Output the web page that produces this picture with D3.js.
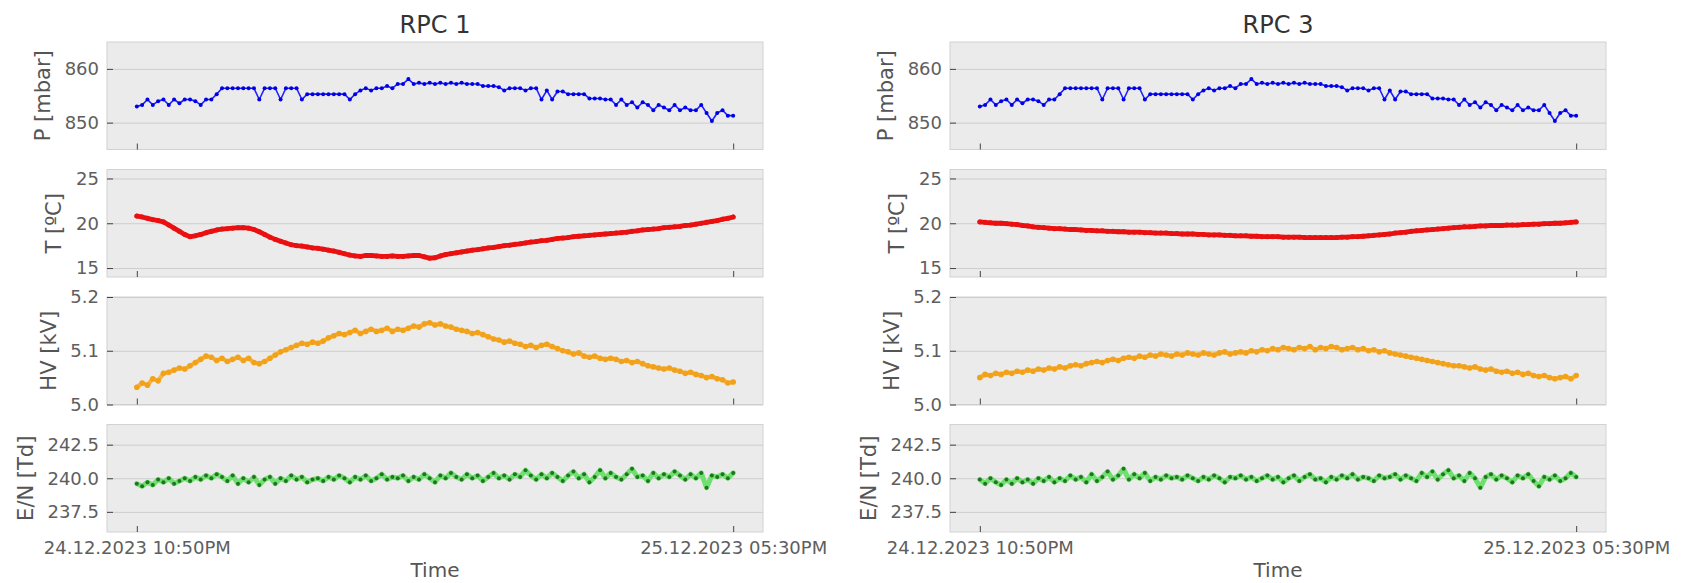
<!DOCTYPE html>
<html>
<head>
<meta charset="utf-8">
<script src="https://cdn.jsdelivr.net/npm/d3@7"></script>
<style>
  body { margin: 0; background: #fff; }
  svg { display: block; font-family: 'DejaVu Sans', sans-serif; }
  .grid line { stroke: #cdcdcd; stroke-width: 1; }
  .grid path { display: none; }
  .axis path { display: none; }
  .axis line { stroke: #444; stroke-width: 1; }
  .axis text { fill: #5e5e5e; font-size: 18px; font-family: 'DejaVu Sans', sans-serif; }
</style>
</head>
<body>
<svg width="1686" height="583"></svg>
<script>
// sampling: one reading every 10 minutes
const startTime = new Date(2023, 11, 24, 22, 50)
const endTime = new Date(2023, 11, 25, 17, 30)
const stepMinutes = 10

const rpcTitles = ['RPC 1', 'RPC 3']
const rowLabels = ['P [mbar]', 'T [ºC]', 'HV [kV]', 'E/N [Td]']
const rowTicks = [[850, 860], [15, 20, 25], [5.0, 5.1, 5.2], [237.5, 240.0, 242.5]]
const rowLimits = [[845, 865], [14, 26], [5.0, 5.2], [236, 244]]
const rowFormats = ['d', 'd', '.1f', '.1f']

// pressure is the same sensor for both chambers
const pressure = [
  853.0, 853.3, 854.3, 853.3, 854.0, 854.3, 853.3, 854.3, 853.6, 854.3,
  854.3, 854.0, 853.3, 854.3, 854.3, 855.3, 856.4, 856.4, 856.4, 856.4,
  856.4, 856.4, 856.4, 854.3, 856.4, 856.4, 856.4, 854.3, 856.4, 856.4,
  856.4, 854.3, 855.3, 855.3, 855.3, 855.3, 855.3, 855.3, 855.3, 855.3,
  854.3, 855.3, 856.0, 856.4, 856.0, 856.4, 856.4, 856.8, 856.4, 857.2,
  857.2, 858.1, 857.2, 857.4, 857.2, 857.4, 857.2, 857.4, 857.2, 857.4,
  857.2, 857.4, 857.2, 857.2, 857.2, 856.8, 856.8, 856.8, 856.6, 856.0,
  856.4, 856.4, 856.4, 856.0, 856.4, 856.4, 854.3, 856.0, 854.3, 855.8,
  855.8, 855.3, 855.3, 855.3, 855.3, 854.5, 854.5, 854.5, 854.3, 854.3,
  853.3, 854.3, 853.3, 853.8, 852.8, 853.8, 853.3, 852.3, 853.3, 852.8,
  852.3, 853.3, 852.3, 852.8, 852.3, 852.3, 853.3, 851.8, 850.3, 851.8,
  852.3, 851.3, 851.3
]

const tempRpc1 = [
  20.8, 20.7, 20.55, 20.4, 20.3, 20.15, 19.8, 19.45, 19.1, 18.75,
  18.5, 18.6, 18.75, 18.95, 19.1, 19.25, 19.35, 19.4, 19.45, 19.5,
  19.5, 19.45, 19.3, 19.05, 18.75, 18.45, 18.2, 18.0, 17.8, 17.6,
  17.5, 17.45, 17.35, 17.25, 17.2, 17.1, 17.0, 16.9, 16.75, 16.6,
  16.45, 16.35, 16.3, 16.4, 16.4, 16.35, 16.3, 16.3, 16.35, 16.3,
  16.3, 16.35, 16.4, 16.4, 16.25, 16.1, 16.15, 16.35, 16.5, 16.6,
  16.7, 16.8, 16.9, 17.0, 17.05, 17.15, 17.25, 17.3, 17.4, 17.5,
  17.55, 17.65, 17.7, 17.8, 17.9, 17.95, 18.05, 18.1, 18.2, 18.3,
  18.35, 18.4, 18.5, 18.55, 18.6, 18.65, 18.7, 18.75, 18.8, 18.85,
  18.9, 18.95, 19.0, 19.1, 19.15, 19.25, 19.3, 19.35, 19.4, 19.5,
  19.55, 19.6, 19.65, 19.75, 19.8, 19.9, 20.0, 20.1, 20.2, 20.3,
  20.45, 20.55, 20.7
]

const tempRpc3 = [
  20.15, 20.1, 20.05, 20.0, 20.0, 19.95, 19.9, 19.85, 19.75, 19.7,
  19.6, 19.55, 19.5, 19.45, 19.4, 19.4, 19.35, 19.3, 19.3, 19.25,
  19.2, 19.2, 19.15, 19.15, 19.1, 19.1, 19.05, 19.05, 19.0, 19.0,
  19.0, 18.95, 18.95, 18.9, 18.9, 18.9, 18.85, 18.85, 18.8, 18.8,
  18.8, 18.75, 18.75, 18.7, 18.7, 18.7, 18.65, 18.65, 18.6, 18.6,
  18.6, 18.55, 18.55, 18.5, 18.5, 18.5, 18.5, 18.45, 18.45, 18.45,
  18.45, 18.4, 18.4, 18.4, 18.4, 18.4, 18.4, 18.4, 18.45, 18.45,
  18.5, 18.5, 18.55, 18.6, 18.65, 18.7, 18.75, 18.8, 18.9, 18.95,
  19.0, 19.1, 19.15, 19.2, 19.25, 19.3, 19.35, 19.4, 19.45, 19.5,
  19.55, 19.6, 19.6, 19.65, 19.7, 19.7, 19.75, 19.75, 19.75, 19.8,
  19.8, 19.8, 19.85, 19.85, 19.9, 19.9, 19.95, 19.95, 20.0, 20.0,
  20.05, 20.1, 20.15
]

const hvRpc1 = [
  5.032, 5.040, 5.036, 5.048, 5.044, 5.058, 5.060, 5.064, 5.068, 5.066,
  5.072, 5.078, 5.084, 5.090, 5.088, 5.082, 5.086, 5.080, 5.084, 5.088,
  5.082, 5.086, 5.078, 5.076, 5.080, 5.086, 5.092, 5.098, 5.102, 5.106,
  5.110, 5.114, 5.112, 5.116, 5.114, 5.118, 5.124, 5.128, 5.132, 5.130,
  5.134, 5.138, 5.132, 5.136, 5.140, 5.136, 5.138, 5.142, 5.136, 5.140,
  5.138, 5.142, 5.146, 5.144, 5.150, 5.152, 5.148, 5.150, 5.146, 5.144,
  5.140, 5.138, 5.136, 5.132, 5.134, 5.130, 5.126, 5.122, 5.120, 5.116,
  5.118, 5.114, 5.112, 5.108, 5.110, 5.106, 5.110, 5.112, 5.108, 5.104,
  5.100, 5.098, 5.094, 5.096, 5.090, 5.088, 5.090, 5.086, 5.084, 5.086,
  5.084, 5.080, 5.082, 5.078, 5.080, 5.076, 5.072, 5.070, 5.068, 5.066,
  5.068, 5.064, 5.062, 5.058, 5.060, 5.056, 5.054, 5.050, 5.052, 5.048,
  5.046, 5.040, 5.042
]

const hvRpc3 = [
  5.050, 5.056, 5.054, 5.058, 5.056, 5.060, 5.058, 5.062, 5.060, 5.064,
  5.062, 5.066, 5.064, 5.068, 5.066, 5.070, 5.068, 5.072, 5.074, 5.072,
  5.076, 5.078, 5.080, 5.078, 5.082, 5.084, 5.082, 5.086, 5.088, 5.086,
  5.090, 5.088, 5.092, 5.090, 5.094, 5.092, 5.090, 5.094, 5.092, 5.096,
  5.094, 5.092, 5.096, 5.094, 5.092, 5.096, 5.098, 5.094, 5.096, 5.098,
  5.096, 5.100, 5.098, 5.102, 5.100, 5.104, 5.102, 5.106, 5.104, 5.102,
  5.106, 5.104, 5.108, 5.102, 5.106, 5.104, 5.108, 5.106, 5.102, 5.104,
  5.106, 5.102, 5.104, 5.100, 5.102, 5.098, 5.100, 5.096, 5.094, 5.092,
  5.090, 5.088, 5.086, 5.084, 5.082, 5.080, 5.078, 5.076, 5.074, 5.072,
  5.072, 5.070, 5.068, 5.070, 5.066, 5.064, 5.066, 5.062, 5.060, 5.062,
  5.058, 5.060, 5.056, 5.058, 5.054, 5.052, 5.054, 5.050, 5.048, 5.050,
  5.052, 5.048, 5.054
]

const enRpc1 = [
  239.6, 239.4, 239.7, 239.5, 239.9, 239.7, 240.0, 239.6, 239.8, 240.0,
  239.8, 240.1, 239.9, 240.2, 240.0, 240.3, 240.1, 239.8, 240.2, 239.6,
  240.0, 239.7, 240.1, 239.5, 239.9, 240.1, 239.6, 240.0, 239.8, 240.2,
  239.9, 240.1, 239.7, 239.9, 240.0, 239.8, 240.1, 239.9, 240.2, 240.0,
  239.7, 240.1, 239.9, 240.2, 239.8, 240.0, 240.3, 239.9, 240.1, 240.0,
  240.2, 239.8, 240.1, 239.9, 240.3, 240.0, 239.7, 240.2, 240.0, 240.4,
  240.1, 239.9, 240.3, 240.0, 240.2, 239.8, 240.1, 240.4, 240.0, 240.2,
  239.9, 240.3, 240.1, 240.6, 240.2, 239.9, 240.3, 240.0, 240.4, 240.1,
  239.8, 240.2, 240.5, 240.0, 240.3, 239.7, 240.1, 240.6, 240.0, 240.4,
  240.1, 239.9, 240.3, 240.7, 240.1, 240.2, 239.8, 240.4, 240.0, 240.3,
  240.1, 240.5, 240.2, 239.9, 240.3, 240.0, 240.4, 239.3, 240.2, 240.1,
  240.3, 240.0, 240.4
]

const enRpc3 = [
  239.9, 239.6, 240.0, 239.7, 239.5, 239.9, 239.6, 240.0, 239.7, 239.9,
  239.6, 240.0, 239.8, 240.1, 239.7, 240.0, 239.8, 240.2, 239.9, 240.1,
  239.7, 240.3, 239.8, 240.1, 240.5, 239.9, 240.2, 240.7, 239.9, 240.3,
  240.0, 240.4, 239.8, 240.1, 239.9, 240.2, 240.0, 240.1, 239.9, 240.2,
  240.0, 239.8, 240.1, 239.9, 240.2, 240.0, 239.7, 240.1, 240.0, 240.2,
  239.9, 240.1, 239.8, 240.0, 240.2, 239.9, 240.1, 239.7, 240.0, 240.2,
  239.8, 240.1, 240.3, 239.9, 240.0, 239.7, 240.1, 239.9, 240.2, 240.0,
  240.3, 239.9, 240.1, 240.0, 239.8, 240.2, 240.0, 240.1, 240.3, 239.9,
  240.2, 240.0, 239.8, 240.4, 240.1, 240.5, 239.9, 240.3, 240.6, 240.0,
  240.2, 239.8, 240.4, 240.0, 239.3, 240.1, 240.3, 239.9, 240.2, 240.0,
  239.7, 240.2, 240.0, 240.3, 239.8, 239.4, 240.1, 239.9, 240.2, 239.8,
  240.0, 240.4, 240.1
]

const seriesByRpc = [
  [pressure, tempRpc1, hvRpc1, enRpc1],
  [pressure, tempRpc3, hvRpc3, enRpc3]
]

// layout and look
const panelLefts = [107, 950]
const panelWidth = 656
const panelTops = [42, 169.5, 297, 424.5]
const panelHeight = 107.5
const rowStyles = [
  { line: '#1f1fff', lineWidth: 1.6, dot: '#0000e6', r: 2.0 },
  { line: '#ee1111', lineWidth: 4.8, dot: '#e81010', r: 2.5 },
  { line: '#f9b43a', lineWidth: 4.2, dot: '#f2a11a', r: 2.8 },
  { line: '#6ee06e', lineWidth: 5, dot: '#217321', r: 2.0 }
]

const svg = d3.select('svg')
const timeOf = (i) => new Date(startTime.getTime() + i * stepMinutes * 60000)

/**
 * Builds the time scale of one column, with matplotlib-like 5% margins.
 *
 * @param {number} left The left edge of the panels
 * @returns {*} The time scale
 */
function makeXScale (left) {
  const pad = (endTime - startTime) * 0.05
  return d3.scaleTime()
    .domain([new Date(startTime.getTime() - pad), new Date(endTime.getTime() + pad)])
    .range([left, left + panelWidth])
}

/**
 * Draws one panel: background, grid, ticks and the series.
 *
 * @param {*} xScale The time scale of the column
 * @param {number} col The column index
 * @param {number} row The row index
 */
function drawPanel (xScale, col, row) {
  const left = panelLefts[col]
  const top = panelTops[row]
  const yScale = d3.scaleLinear()
    .domain(rowLimits[row])
    .range([top + panelHeight, top])
  const g = svg.append('g')

  g.append('rect')
    .attr('x', left)
    .attr('y', top)
    .attr('width', panelWidth)
    .attr('height', panelHeight)
    .attr('fill', '#ebebeb')
    .attr('stroke', '#d2d2d2')

  g.append('g')
    .attr('class', 'grid')
    .attr('transform', 'translate(' + left + ',0)')
    .call(d3.axisLeft(yScale).tickValues(rowTicks[row]).tickSize(-panelWidth).tickFormat(''))

  const yAxis = g.append('g')
    .attr('class', 'axis')
    .attr('transform', 'translate(' + left + ',0)')
    .call(d3.axisLeft(yScale)
      .tickValues(rowTicks[row])
      .tickSizeInner(-6)
      .tickSizeOuter(0)
      .tickPadding(8)
      .tickFormat(d3.format(rowFormats[row])))

  const isLast = row === rowLimits.length - 1
  g.append('g')
    .attr('class', 'axis')
    .attr('transform', 'translate(0,' + (top + panelHeight) + ')')
    .call(d3.axisBottom(xScale)
      .tickValues([startTime, endTime])
      .tickSizeInner(-6)
      .tickSizeOuter(0)
      .tickPadding(9)
      .tickFormat(isLast ? d3.timeFormat('%d.%m.%Y %I:%M%p') : ''))

  const values = seriesByRpc[col][row]
  const style = rowStyles[row]
  const line = d3.line()
    .x((d, i) => xScale(timeOf(i)))
    .y(d => yScale(d))

  g.append('path')
    .datum(values)
    .attr('d', line)
    .attr('fill', 'none')
    .attr('stroke', style.line)
    .attr('stroke-width', style.lineWidth)
    .attr('stroke-linejoin', 'round')
    .attr('stroke-linecap', 'round')

  g.selectAll('circle')
    .data(values)
    .join('circle')
    .attr('cx', (d, i) => xScale(timeOf(i)))
    .attr('cy', d => yScale(d))
    .attr('r', style.r)
    .attr('fill', style.dot)

  // the label sits just left of the widest tick label, like matplotlib
  const tickLeft = d3.min(yAxis.selectAll('text').nodes(), n => left + n.getBBox().x)
  g.append('text')
    .text(rowLabels[row])
    .attr('transform', 'translate(' + (tickLeft - 22) + ',' + (top + panelHeight / 2) + ') rotate(-90)')
    .attr('dy', '0.35em')
    .attr('text-anchor', 'middle')
    .attr('fill', '#555')
    .attr('font-size', 21)
}

/**
 * Appends the title and the x label of one column.
 *
 * @param {number} col The column index
 */
function appendColumnLabels (col) {
  const mid = panelLefts[col] + panelWidth / 2
  svg.append('text')
    .text(rpcTitles[col])
    .attr('x', mid)
    .attr('y', 33)
    .attr('text-anchor', 'middle')
    .attr('fill', '#333')
    .attr('font-size', 24)

  svg.append('text')
    .text('Time')
    .attr('x', mid)
    .attr('y', 577)
    .attr('text-anchor', 'middle')
    .attr('fill', '#555')
    .attr('font-size', 20)
}

rpcTitles.forEach((title, col) => {
  const xScale = makeXScale(panelLefts[col])
  rowLabels.forEach((label, row) => drawPanel(xScale, col, row))
  appendColumnLabels(col)
})
</script>
</body>
</html>
